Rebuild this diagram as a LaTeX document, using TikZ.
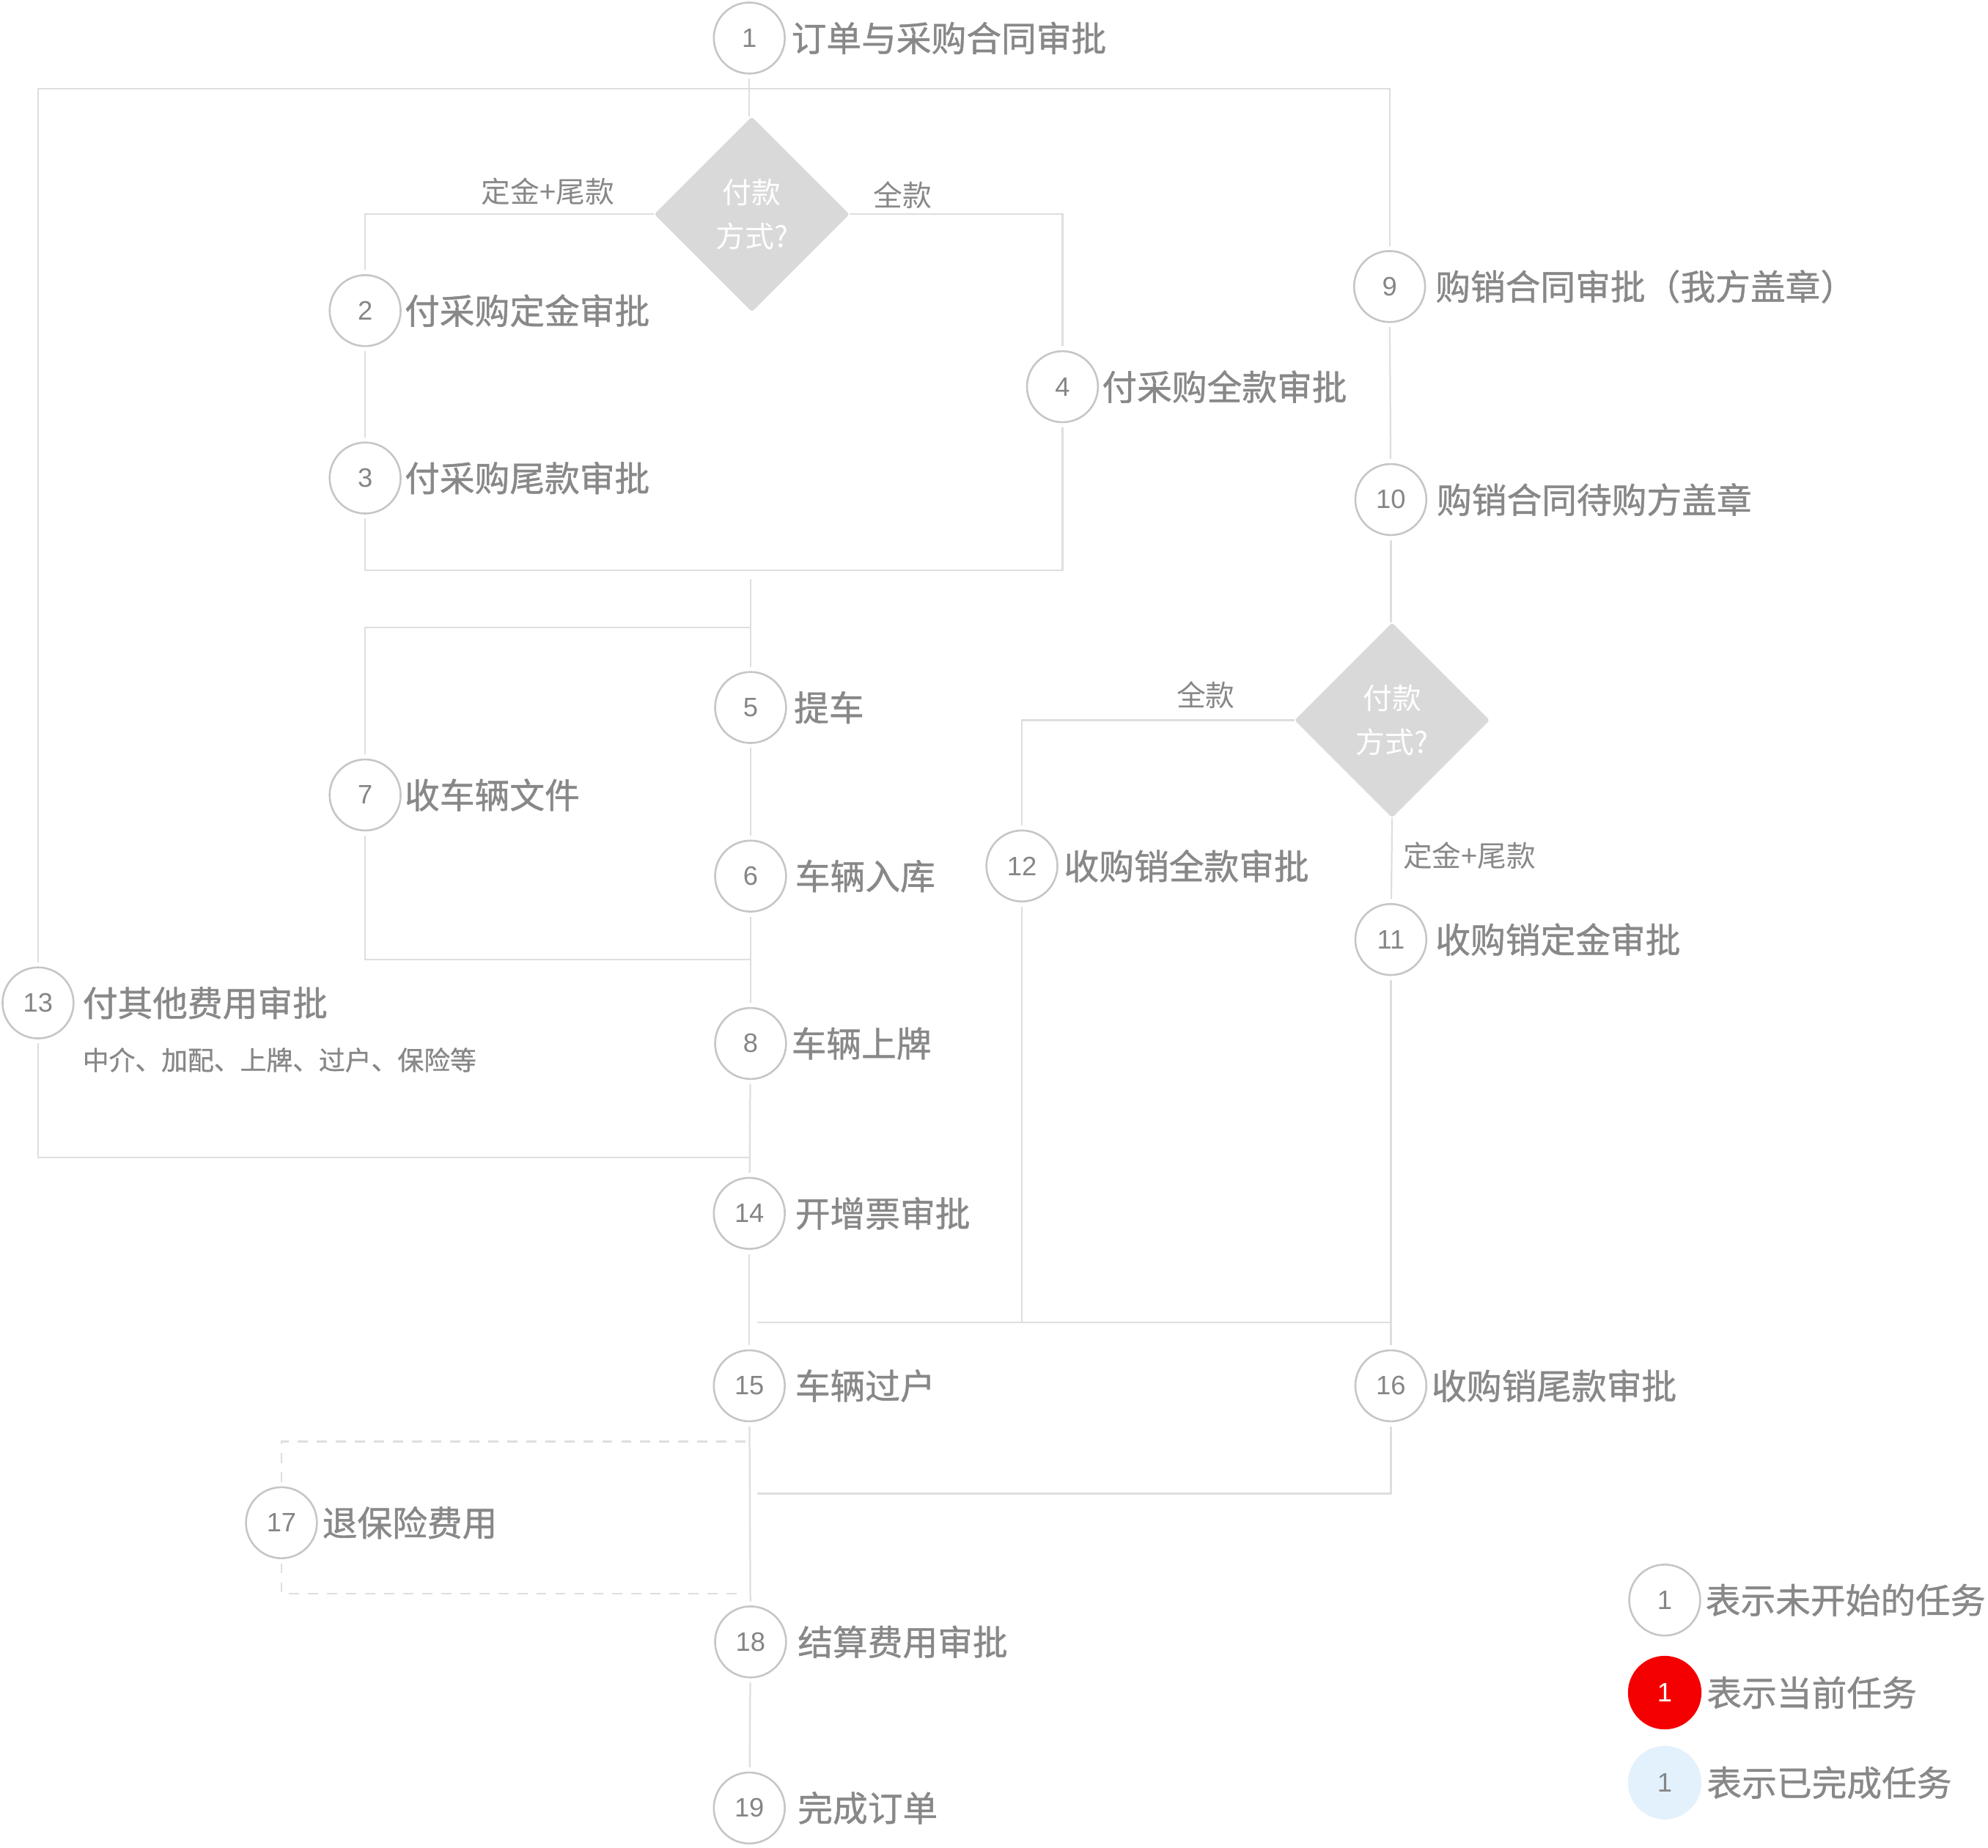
\documentclass[tikz,border=0pt]{standalone}
\usepackage{fontspec}
\setmainfont{Noto Sans CJK SC}
\newfontfamily\cjk{Noto Sans CJK SC}
\newfontfamily\cjkm[FakeBold=0.9]{Noto Sans CJK SC}
\newfontfamily\numf{Liberation Sans}
\usetikzlibrary{shapes.geometric}
\definecolor{linec}{HTML}{DEDEDE}
\definecolor{circbd}{HTML}{C6C6C6}
\definecolor{numc}{HTML}{858585}
\definecolor{labc}{HTML}{888888}
\definecolor{diafill}{HTML}{D9D9D9}
\definecolor{curred}{HTML}{F50000}
\definecolor{donebl}{HTML}{E3F1FC}
\tikzset{
  task/.style={circle, draw=circbd, line width=1.5pt, minimum size=56pt, inner sep=0pt,
    font=\numf\fontsize{21}{24}\selectfont, text=numc, outer sep=4pt},
  lab/.style={anchor=west, inner sep=0pt, font=\cjkm\fontsize{27.6}{32}\selectfont, text=labc},
  sublab/.style={anchor=west, inner sep=0pt, font=\cjkm\fontsize{20.7}{24}\selectfont, text=labc},
  brlab/.style={inner sep=0pt, font=\cjk\fontsize{23}{28}\selectfont, text=labc},
  decision/.style={diamond, fill=diafill, minimum width=154pt, minimum height=154pt, inner sep=0pt,
    font=\cjk\fontsize{23}{35}\selectfont, text=white, align=center, rounded corners=2pt},
  conn/.style={draw=linec, line width=1.3pt},
  dconn/.style={draw=linec, line width=1.3pt, dash pattern=on 8pt off 7pt}
}
\begin{document}
\begin{tikzpicture}[x=1pt,y=-1pt]
\useasboundingbox (0,0) rectangle (1568,1457);
% main column
\node[task] (n1) at (591,30) {1};
\node[lab] (t1) at ([xshift=1pt]n1.east) {订单与采购合同审批};
\node[decision] (d1) at (593,169) {付款\\方式?};
\node[task] (n2) at (288,245) {2};
\node[lab] (t2) at ([xshift=-1pt]n2.east) {付采购定金审批};
\node[task] (n3) at (288,377) {3};
\node[lab] (t3) at ([xshift=-1pt]n3.east) {付采购尾款审批};
\node[task] (n4) at (838,305) {4};
\node[lab] (t4) at ([xshift=-1pt]n4.east) {付采购全款审批};
\node[task] (n5) at (592,558) {5};
\node[lab] (t5) at ([xshift=2pt]n5.east) {提车};
\node[task] (n7) at (288,627) {7};
\node[lab] (t7) at ([xshift=-1pt]n7.east) {收车辆文件};
\node[task] (n6) at (592,691) {6};
\node[lab] (t6) at ([xshift=3pt]n6.east) {车辆入库};
\node[task] (n8) at (592,823) {8};
\node[lab] (t8) at ([xshift=0pt]n8.east) {车辆上牌};
\node[task] (n13) at (30,791) {13};
\node[lab] (t13) at ([xshift=3pt]n13.east) {付其他费用审批};
\node[sublab] (s13) at (65,836) {中介、加配、上牌、过户、保险等};
\node[task] (n14) at (591,957) {14};
\node[lab] (t14) at ([xshift=4pt]n14.east) {开增票审批};
\node[task] (n15) at (591,1093) {15};
\node[lab] (t15) at ([xshift=4pt]n15.east) {车辆过户};
\node[task] (n17) at (222,1201) {17};
\node[lab] (t17) at ([xshift=0pt]n17.east) {退保险费用};
\node[task] (n18) at (592,1295) {18};
\node[lab] (t18) at ([xshift=5pt]n18.east) {结算费用审批};
\node[task] (n19) at (591,1426) {19};
\node[lab] (t19) at ([xshift=6pt]n19.east) {完成订单};
% right column
\node[task] (n9) at (1096,226) {9};
\node[lab] (t9) at ([xshift=4pt]n9.east) {购销合同审批（我方盖章）};
\node[task] (n10) at (1097,394) {10};
\node[lab] (t10) at ([xshift=4pt]n10.east) {购销合同待购方盖章};
\node[decision] (d2) at (1098,568) {付款\\方式?};
\node[task] (n12) at (806,683) {12};
\node[lab] (t12) at ([xshift=1pt]n12.east) {收购销全款审批};
\node[task] (n11) at (1097,741) {11};
\node[lab] (t11) at ([xshift=3pt]n11.east) {收购销定金审批};
\node[task] (n16) at (1097,1093) {16};
\node[lab] (t16) at ([xshift=0pt]n16.east) {收购销尾款审批};
% branch labels
\node[brlab] (b1) at (432,151) {定金+尾款};
\node[brlab] (b2) at (712,154) {全款};
\node[brlab] (b3) at (951,548) {全款};
\node[brlab] (b4) at (1159,675) {定金+尾款};
% legend
\node[task] (l1) at (1313,1262) {1};
\node[lab] (lt1) at ([xshift=0pt]l1.east) {表示未开始的任务};
\node[task, draw=none, fill=curred, text=white, minimum size=58pt] (l2) at (1313,1335) {1};
\node[lab] (lt2) at ([xshift=0pt]l2.east) {表示当前任务};
\node[task, draw=none, fill=donebl, minimum size=58pt] (l3) at (1313,1406) {1};
\node[lab] (lt3) at ([xshift=0pt]l3.east) {表示已完成任务};
% junction coordinates
\coordinate (top) at (591,70);
\coordinate (j1) at (592,450);
\coordinate (j2) at (592,457);
\coordinate (c7a) at (592,495);
\coordinate (c7b) at (592,757);
\coordinate (b13) at (592,913);
\coordinate (j3) at (597,1043);
\coordinate (j4) at (597,1178);
\coordinate (d17a) at (588,1137);
\coordinate (d17b) at (588,1257);
% connectors
\draw[conn] (n1) -- (n1 |- d1.north);
\draw[conn] (n13) -- (n13 |- top) -- (n9 |- top) -- (n9);
\draw[conn] (n13) -- (n13 |- b13) -- (b13);
\draw[conn] (d1.west) -- (d1.west -| n2) -- (n2);
\draw[conn] (d1.east) -- (d1.east -| n4) -- (n4);
\draw[conn] (n2) -- (n3);
\draw[conn] (n3) -- (n3 |- j1) -- (n4 |- j1) -- (n4);
\draw[conn] (j2) -- (n5);
\draw[conn] (c7a) -| (n7);
\draw[conn] (n7) |- (c7b);
\draw[conn] (n5) -- (n6);
\draw[conn] (n6) -- (n8);
\draw[conn] (n8) -- (n14);
\draw[conn] (n14) -- (n15);
\draw[conn] (n15) -- (n18);
\draw[conn] (n18) -- (n19);
\draw[conn] (n9) -- (n10);
\draw[conn] (n10) -- (n10 |- d2.north);
\draw[conn] (d2.west) -| (n12);
\draw[conn] (d2.south) -- (n11);
\draw[conn] (n12) -- (n12 |- j3);
\draw[conn] (j3) -- (n11 |- j3);
\draw[conn] (n11) -- (n16);
\draw[conn] (n16) -- (n16 |- j4) -- (j4);
\draw[dconn] (d17a) -| (n17);
\draw[dconn] (n17) |- (d17b);
\end{tikzpicture}
\end{document}
